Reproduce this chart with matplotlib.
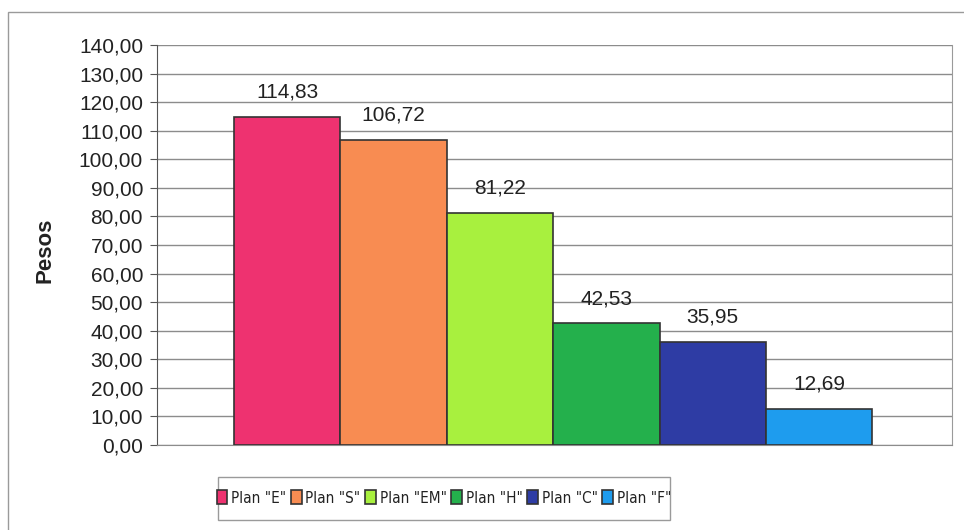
import matplotlib.pyplot as plt
from matplotlib.patches import Rectangle

plt.rcParams['font.family'] = ['Liberation Sans', 'DejaVu Sans']

# Data
series = ['Plan "E"', 'Plan "S"', 'Plan "EM"', 'Plan "H"', 'Plan "C"', 'Plan "F"']
values = [114.83, 106.72, 81.22, 42.53, 35.95, 12.69]
colors = ['#EE3270', '#F88C52', '#A8F03E', '#24B04C', '#2E3CA4', '#1E9CEE']
yticks = list(range(0, 141, 10))

W, H = 964, 530
fig = plt.figure(figsize=(W / 100, H / 100), dpi=100)
fig.patch.set_facecolor('white')

# outer chart frame
fig.patches.append(Rectangle((8 / W, -0.1), 2, (H - 12) / H + 0.1,
                             transform=fig.transFigure, fill=False,
                             edgecolor='#9a9a9a', linewidth=1))
# legend box
fig.patches.append(Rectangle((218 / W, 1 - 520 / H), 452 / W, 43 / H,
                             transform=fig.transFigure, fill=False,
                             edgecolor='#9a9a9a', linewidth=1))

ax = fig.add_axes([157 / W, (H - 445) / H, 795 / W, 400 / H])

handles = []
for i, (name, v, c) in enumerate(zip(series, values, colors)):
    b = ax.bar(i, v, width=1.0, color=c, edgecolor='#333333', linewidth=1.2,
               label=name, zorder=3)
    handles.append(b)
    ax.annotate(f'{v:.2f}'.replace('.', ','), (i, v), xytext=(0, 14),
                textcoords='offset points', ha='center', va='baseline',
                fontsize=15, color='#222222')

ax.set_xlim(-1.225, 6.25)
ax.set_ylim(0, 140)
ax.set_yticks(yticks)
ax.set_yticklabels([f'{t},00' for t in yticks], fontsize=15, color='#222222')
ax.set_xticks([])
ax.tick_params(axis='y', length=5, color='#555555', pad=5)
ax.yaxis.grid(True, color='#8c8c8c', linewidth=1)
ax.set_axisbelow(True)
ax.spines['top'].set_visible(False)
ax.spines['left'].set_color('#555555')
ax.spines['right'].set_color('#9a9a9a')
ax.spines['bottom'].set_color('#8c8c8c')

fig.text(45 / W, 1 - 250 / H, 'Pesos', rotation=90, ha='center', va='center',
         fontsize=16, fontweight='bold', color='#222222')

leg = fig.legend(handles=handles, labels=series, loc='center',
                 bbox_to_anchor=(444 / W, 1 - 498 / H), ncol=6,
                 prop={'family': 'DejaVu Sans', 'stretch': 'condensed', 'size': 11},
                 handlelength=0.7, handleheight=1.0, handletextpad=0.25,
                 columnspacing=0.3, frameon=False, borderpad=0, borderaxespad=0)
for t in leg.get_texts():
    t.set_color('#222222')

fig.savefig('out.png', dpi=100)
